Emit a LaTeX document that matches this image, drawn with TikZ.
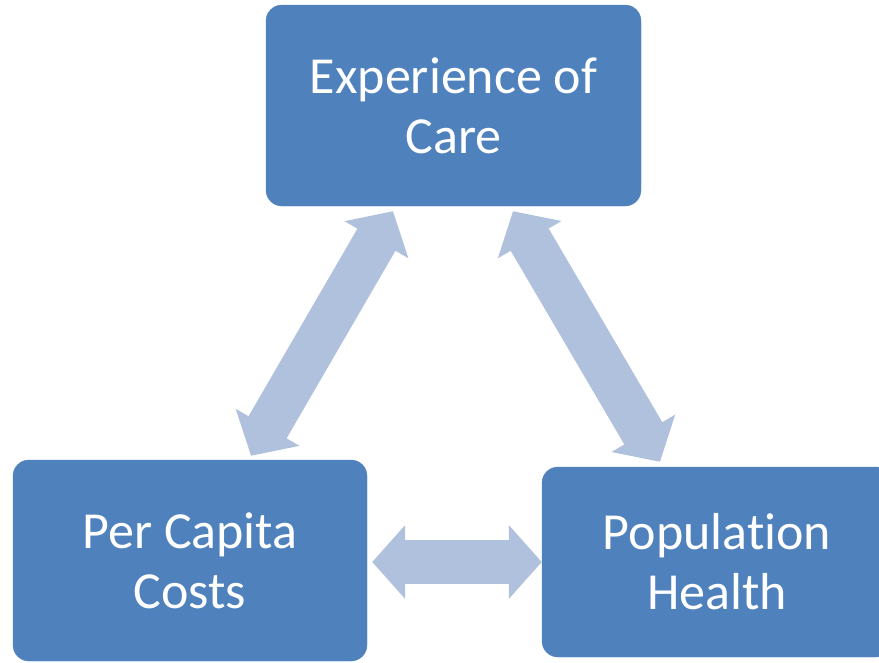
\documentclass[tikz,border=0pt]{standalone}
\usepackage{fontspec}
\setmainfont{Carlito}[Ligatures={NoCommon,NoRare,NoContextual}]
\usetikzlibrary{arrows.meta,calc}
\definecolor{boxblue}{HTML}{4F81BD}
\definecolor{arrowblue}{HTML}{B0C1DD}
\tikzset{
  box/.style={rectangle, rounded corners=16pt, fill=boxblue, draw=boxblue,
    text=white, align=center, inner sep=0pt,
    font=\fontsize{52}{60}\selectfont},
  blockarrow/.style={draw=arrowblue, line width=44pt, line cap=butt,
    {Triangle[width=72pt,length=33pt]}-{Triangle[width=72pt,length=33pt]}}
}
\begin{document}
\begin{tikzpicture}[x=1pt,y=-1pt]
\useasboundingbox (0,0) rectangle (879,662);
\begin{scope}
\clip (0,0) rectangle (879,662);
\node[box, minimum width=375pt, minimum height=201pt] (top) at (453.5,105.5) {Experience of\\Care};
\node[box, minimum width=354pt, minimum height=201pt] (pcc) at (190,560.5) {Per Capita\\Costs};
\node[box, minimum width=350pt, minimum height=190pt] (pop) at (717,562) {Popula{}tion\\Health};
\coordinate (lt) at ([xshift=-60.5pt,yshift=-5pt]top.south);
\coordinate (lb) at ([xshift=61pt,yshift=4pt]pcc.north);
\coordinate (rt) at ([xshift=59.5pt,yshift=-5pt]top.south);
\coordinate (rb) at ([xshift=-57pt,yshift=5pt]pop.north);
\coordinate (hl) at ([xshift=5pt]pcc.east |- pop.west);
\draw[blockarrow] (lb) -- (lt);
\draw[blockarrow] (rt) -- (rb);
\draw[blockarrow] (hl) -- (pop.west);
\end{scope}
\end{tikzpicture}
\end{document}
